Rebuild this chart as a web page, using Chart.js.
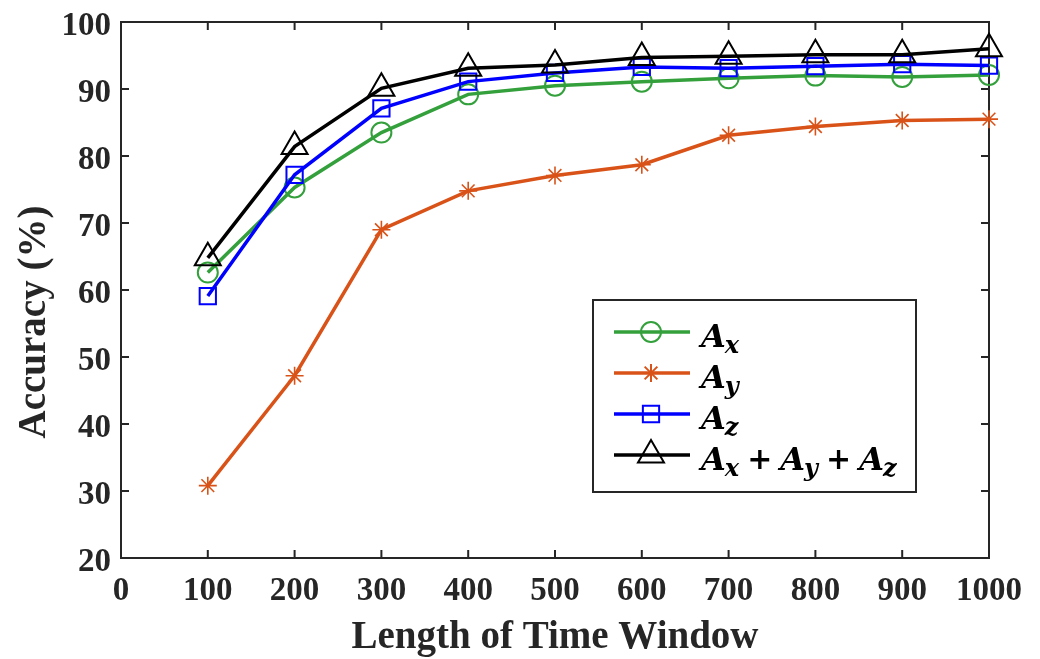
<!DOCTYPE html>
<html>
<head>
<meta charset="utf-8">
<script src="https://cdn.jsdelivr.net/npm/chart.js@4.4.0/dist/chart.umd.min.js"></script>
<style>
    body { margin: 0; background: #fff; }
</style>
</head>
<body>
<canvas id="myChart" width="1040" height="659"></canvas>
<script>

// data
const windowLengths = [100, 200, 300, 400, 500, 600, 700, 800, 900, 1000];
const accX   = [62.6, 75.3, 83.5, 89.2, 90.5, 91.1, 91.6, 92.0, 91.8, 92.1];
const accY   = [30.8, 47.2, 69.0, 74.8, 77.1, 78.7, 83.1, 84.4, 85.3, 85.5];
const accZ   = [59.1, 77.2, 87.1, 91.1, 92.4, 93.3, 93.1, 93.4, 93.7, 93.5];
const accAll = [64.8, 81.4, 90.1, 93.1, 93.6, 94.7, 94.9, 95.1, 95.1, 96.0];

const seriesLabels = ['A_x', 'A_y', 'A_z', 'A_x + A_y + A_z'];
const xTitle = 'Length of Time Window';
const yTitle = 'Accuracy (%)';

const axisColor = '#262626';
const serif = '"Liberation Serif", "Times New Roman", serif';
const mathFont = '"DejaVu Serif", serif';

const styles = [
    { color: '#33a03c', pointStyle: 'circle', radius: 10 },
    { color: '#d95319', pointStyle: 'star', radius: 9 },
    { color: '#0000ff', pointStyle: 'rect', radius: 11.5 },
    { color: '#000000', pointStyle: 'triangle', radius: 15 }
];

function pts(arr) {
    return windowLengths.map((x, i) => ({ x, y: arr[i] }));
}

const allSeries = [accX, accY, accZ, accAll];

const datasets = allSeries.map((arr, i) => ({
    label: seriesLabels[i],
    data: pts(arr),
    borderColor: styles[i].color,
    borderWidth: 3.5,
    pointStyle: styles[i].pointStyle,
    pointRadius: styles[i].radius,
    pointHoverRadius: styles[i].radius,
    pointBorderWidth: i === 1 ? 1.6 : 2,
    pointBorderColor: styles[i].color,
    pointBackgroundColor: 'rgba(0,0,0,0)',
    fill: false,
    tension: 0,
    clip: false,
    order: 3 - i
}));

// box + inward ticks like matlab
const frame = {
    id: 'frame',
    beforeDatasetsDraw(chart) {
        const { ctx, chartArea: a, scales: { x, y } } = chart;
        ctx.save();
        ctx.strokeStyle = axisColor;
        ctx.lineWidth = 2;
        ctx.beginPath();
        x.ticks.forEach(t => {
            const px = x.getPixelForValue(t.value);
            ctx.moveTo(px, a.bottom); ctx.lineTo(px, a.bottom - 8);
            ctx.moveTo(px, a.top); ctx.lineTo(px, a.top + 8);
        });
        y.ticks.forEach(t => {
            const py = y.getPixelForValue(t.value);
            ctx.moveTo(a.left, py); ctx.lineTo(a.left + 8, py);
            ctx.moveTo(a.right, py); ctx.lineTo(a.right - 8, py);
        });
        ctx.stroke();
        ctx.strokeRect(a.left, a.top, a.right - a.left, a.bottom - a.top);
        ctx.restore();
    },
    afterDraw(chart) {
        const { ctx, chartArea: a } = chart;
        ctx.save();
        ctx.fillStyle = axisColor;
        ctx.font = 'bold 39px ' + serif;
        ctx.textAlign = 'center';
        ctx.textBaseline = 'middle';
        ctx.fillText(xTitle, (a.left + a.right) / 2, 638);
        ctx.translate(35, (a.top + a.bottom) / 2 + 32);
        ctx.rotate(-Math.PI / 2);
        ctx.fillText(yTitle, 0, 0);
        ctx.restore();
    }
};

// legend with subscripts
function drawMathLabel(ctx, label, x, y) {
    const parts = label.split(' + ');
    parts.forEach((p, k) => {
        const [base, sub] = p.split('_');
        ctx.font = 'italic bold 32px ' + mathFont;
        ctx.fillText(base, x, y);
        x += ctx.measureText(base).width;
        ctx.font = 'italic bold 24px ' + mathFont;
        ctx.fillText(sub, x - 1, y + 6);
        x += ctx.measureText(sub).width - 1;
        if (k < parts.length - 1) {
            ctx.font = 'bold 30px ' + mathFont;
            x += 8;
            ctx.fillText('+', x, y - 1);
            x += ctx.measureText('+').width + 8;
        }
    });
}

const boxLegend = {
    id: 'boxLegend',
    afterDraw(chart) {
        const { ctx } = chart;
        const bx = 593, by = 300, bw = 323, bh = 192;
        ctx.save();
        ctx.fillStyle = '#fff';
        ctx.fillRect(bx, by, bw, bh);
        ctx.strokeStyle = axisColor;
        ctx.lineWidth = 2;
        ctx.strokeRect(bx, by, bw, bh);
        chart.data.datasets.forEach((ds, i) => {
            const cy = 332 + i * 41;
            ctx.strokeStyle = ds.borderColor;
            ctx.lineWidth = 3.5;
            ctx.beginPath();
            ctx.moveTo(614, cy);
            ctx.lineTo(690, cy);
            ctx.stroke();
            ctx.lineWidth = 2;
            ctx.fillStyle = 'rgba(0,0,0,0)';
            Chart.helpers.drawPoint(ctx, {
                pointStyle: ds.pointStyle,
                radius: ds.pointRadius,
                borderWidth: 2,
                rotation: 0
            }, 651, cy);
            ctx.fillStyle = '#000';
            ctx.textAlign = 'left';
            ctx.textBaseline = 'alphabetic';
            drawMathLabel(ctx, ds.label, 701, cy + 15);
        });
        ctx.restore();
    }
};

const config = {
    type: 'line',
    data: { datasets },
    options: {
        responsive: false,
        animation: false,
        events: [],
        layout: { padding: { top: 22, right: 51, left: 0, bottom: 0 } },
        plugins: {
            legend: { display: false },
            tooltip: { enabled: false }
        },
        scales: {
            x: {
                type: 'linear',
                min: 0,
                max: 1000,
                grid: { display: false, drawTicks: false },
                border: { display: false },
                ticks: {
                    stepSize: 100,
                    padding: 14,
                    color: axisColor,
                    maxRotation: 0,
                    autoSkip: false,
                    callback: v => String(v),
                    font: { family: serif, size: 33, weight: 'bold' }
                },
                afterFit(s) {
                    s.height = 101;
                    s.paddingLeft = 0;
                    s.paddingRight = 0;
                }
            },
            y: {
                min: 20,
                max: 100,
                grid: { display: false, drawTicks: false },
                border: { display: false },
                ticks: {
                    stepSize: 10,
                    padding: 10,
                    labelOffset: 4,
                    color: axisColor,
                    callback: v => String(v),
                    font: { family: serif, size: 33, weight: 'bold' }
                },
                afterFit(s) {
                    s.width = 121;
                    s.paddingTop = 0;
                    s.paddingBottom = 0;
                }
            }
        }
    },
    plugins: [frame, boxLegend]
};

const myChart = new Chart(document.getElementById('myChart'), config);

</script>
</body>
</html>
